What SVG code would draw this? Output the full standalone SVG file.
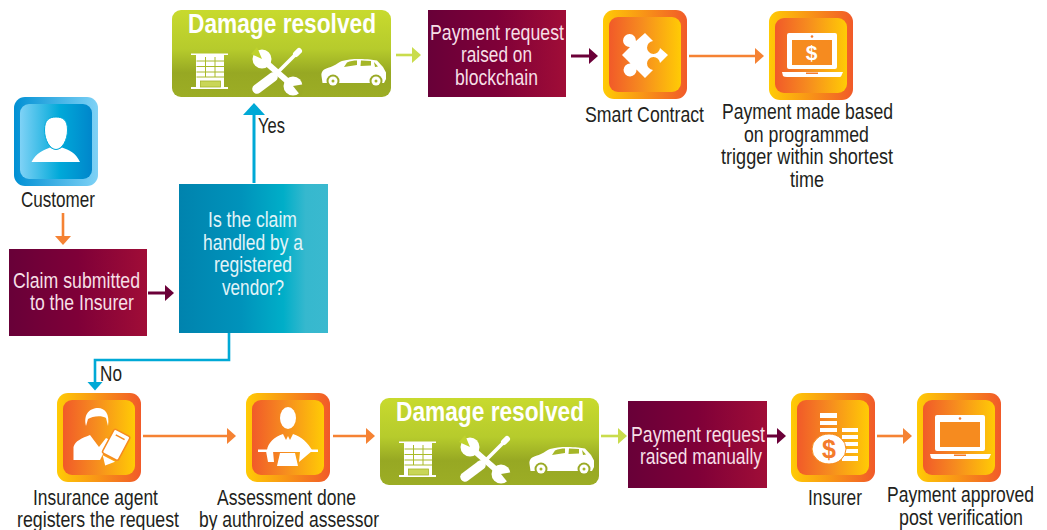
<svg xmlns="http://www.w3.org/2000/svg" xmlns:xlink="http://www.w3.org/1999/xlink" width="1047" height="530" viewBox="0 0 1047 530">
<style>
text{font-family:"Liberation Sans",Arial,sans-serif;font-size:22px;fill:#231f20}
.lt{fill:#f6dfe6}
.bt{fill:#e2f4f8}
.h{font-size:27px;font-weight:bold;fill:#fff}
.w{fill:#fff}
.c{fill:none;stroke-width:2.6}
.cb{stroke:#00a9d6}.co{stroke:#f58233}.cp{stroke:#6b0038;stroke-width:3}.cg{stroke:#c9dc4c}
</style>
<defs>
<linearGradient id="og1"><stop offset="0" stop-color="#ffcb05"/><stop offset="1" stop-color="#f15a29"/></linearGradient>
<linearGradient id="og2"><stop offset="0" stop-color="#f15a29"/><stop offset=".45" stop-color="#f68b1f"/><stop offset="1" stop-color="#ffcb05"/></linearGradient>
<linearGradient id="bg1"><stop offset="0" stop-color="#0090d4"/><stop offset="1" stop-color="#7fd2f6"/></linearGradient>
<linearGradient id="bg2"><stop offset="0" stop-color="#7fd2f6"/><stop offset=".55" stop-color="#00a9d9"/><stop offset="1" stop-color="#0086cb"/></linearGradient>
<linearGradient id="pg"><stop offset="0" stop-color="#680038"/><stop offset=".5" stop-color="#7f0038"/><stop offset="1" stop-color="#a00d37"/></linearGradient>
<linearGradient id="tg"><stop offset="0" stop-color="#0083ae"/><stop offset=".42" stop-color="#0093bb"/><stop offset=".7" stop-color="#00aec8"/><stop offset=".85" stop-color="#36b8ce"/><stop offset="1" stop-color="#3ab9cf"/></linearGradient>
<linearGradient id="gg" x2="0" y2="1"><stop offset="0" stop-color="#c8da2e"/><stop offset=".45" stop-color="#b6cb2c"/><stop offset=".72" stop-color="#97a823"/><stop offset="1" stop-color="#9cad25"/></linearGradient>
<marker id="mb" markerUnits="userSpaceOnUse" markerWidth="24" markerHeight="24" refX="1" refY="11" orient="auto"><path d="M0,0L12,11L0,22Z" fill="#00a9d6"/></marker>
<marker id="mb2" markerUnits="userSpaceOnUse" markerWidth="12" markerHeight="18" refX="1" refY="7.500" orient="auto"><path d="M0,0L8.500,7.500L0,15Z" fill="#00a9d6"/></marker>
<marker id="mo" markerUnits="userSpaceOnUse" markerWidth="12" markerHeight="18" refX="1" refY="8" orient="auto"><path d="M0,0L9,8L0,16Z" fill="#f58233"/></marker>
<marker id="mp" markerUnits="userSpaceOnUse" markerWidth="12" markerHeight="18" refX="1" refY="8" orient="auto"><path d="M0,0L9,8L0,16Z" fill="#6b0038"/></marker>
<marker id="mg" markerUnits="userSpaceOnUse" markerWidth="12" markerHeight="18" refX="1" refY="8" orient="auto"><path d="M0,0L9,8L0,16Z" fill="#c9dc4c"/></marker>
<g id="tile"><rect width="84" height="89" rx="11" fill="url(#og1)"/><rect x="6" y="7" width="72" height="75" rx="9" fill="url(#og2)"/></g>
<g id="laptop">
<rect x="18" y="22" width="50" height="36" rx="2" fill="#fff"/><rect x="23" y="29" width="40" height="25" fill="#f68b1f"/><circle cx="43" cy="25.500" r="1.300" fill="#f47b2b"/>
<path d="M13,61H74L72,65.500Q71,66 69,66H18Q15,66 14,65Z" fill="#fff"/><rect x="37" y="61.500" width="12" height="1.500" fill="#f47b2b"/>
</g>
<g id="dmg">
<rect width="219" height="87" rx="9" fill="url(#gg)"/>
<path class="w" d="M19,43.500H56V45H52V77H56V79H19V77H24V45H19Z"/>
<path d="M24.500,51H52M24.500,56.500H52M24.500,62H52M24.500,67H52M33.500,47V67M43,47V67" stroke="#a9ba28" stroke-width="1" fill="none"/>
<rect x="28.500" y="71" width="20" height="6" fill="#c9d657" stroke="#a5b628" stroke-width=".8"/>
<path d="M90,49L121,76" stroke="#fff" stroke-width="6"/>
<circle class="w" cx="90" cy="49" r="9.500"/><path d="M90,49L79,44L85,37Z" fill="#bfd22d"/>
<circle class="w" cx="121" cy="76" r="9.500"/><path d="M121,76L133,74L129,86Z" fill="#9aaa25"/>
<path d="M125,43L103,65" stroke="#fff" stroke-width="3.500"/><path d="M124,44L127,41" stroke="#fff" stroke-width="6" stroke-linecap="round"/>
<path d="M101,67L85,79" stroke="#fff" stroke-width="9.500" stroke-linecap="round"/>
<g transform="translate(0,-10)">
<path class="w" d="M149.500,76C149,72 151,69 157,67.500C162,66.500 165,63 170,61C177,58.500 190,58.500 198,59.500L205,60.500L211,67L214,72.500V79L212,83H150.500Z"/>
<path d="M172,67L175,62.500C178,61 182,60.500 185,60.500V65ZM189,60.500L199,61V65.500L188.500,66ZM202,62L206,66.500L203,67Z" fill="#a5b628"/>
<circle cx="161" cy="81" r="6.500" fill="#9aaa25"/><circle cx="161" cy="81" r="4.500" fill="#fff"/><circle cx="161" cy="81" r="1.500" fill="#a5b628"/>
<circle cx="204" cy="81" r="6.500" fill="#9aaa25"/><circle cx="204" cy="81" r="4.500" fill="#fff"/><circle cx="204" cy="81" r="1.500" fill="#a5b628"/>
</g>
<text class="h" transform="translate(16,23) scale(.9,1)" textLength="208.900" lengthAdjust="spacingAndGlyphs">Damage resolved</text>
</g>
</defs>

<g id="connectors">
<path class="c cb" style="stroke-width:3" d="M254,183V114" marker-end="url(#mb)"/>
<path class="c cb" d="M229,333V360H95V383" marker-end="url(#mb2)"/>
<path class="c co" d="M63,213V237" marker-end="url(#mo)"/>
<path class="c cp" d="M148,293H166" marker-end="url(#mp)"/>
<path class="c cg" d="M396,55H413" marker-end="url(#mg)"/>
<path class="c cp" d="M571,56H590" marker-end="url(#mp)"/>
<path class="c co" d="M689,56H756" marker-end="url(#mo)"/>
<path class="c co" d="M143,436H228" marker-end="url(#mo)"/>
<path class="c co" d="M333,436H367" marker-end="url(#mo)"/>
<path class="c cg" d="M601,436H619" marker-end="url(#mg)"/>
<path class="c cp" d="M767,436H778" marker-end="url(#mp)"/>
<path class="c co" d="M877,436H904" marker-end="url(#mo)"/>
</g>

<g id="customer">
<rect x="14" y="97" width="84" height="89" rx="11" fill="url(#bg1)"/><rect x="20" y="104" width="72" height="75" rx="9" fill="url(#bg2)"/>
<path class="w" d="M31.500,162C36,153 44,150 50,147.500C53,150 59,150 62,147.500C69,150 76,153 80,162Z"/>
<path class="w" stroke="#00a9d9" d="M44.500,130C44.500,120 49,117 56,117C63,117 67.500,120 67.500,130C67.500,140 62,149.500 56,149.500C50,149.500 44.500,140 44.500,130Z"/>
<text transform="translate(21,207) scale(.82,1)" textLength="90.200" lengthAdjust="spacingAndGlyphs">Customer</text>
</g>

<g id="claim">
<rect x="9" y="249" width="138" height="87" fill="url(#pg)"/>
<text class="lt" transform="translate(13,288) scale(.82,1)" textLength="154.900" lengthAdjust="spacingAndGlyphs">Claim submitted</text>
<text class="lt" transform="translate(30,310) scale(.82,1)" textLength="126.800" lengthAdjust="spacingAndGlyphs">to the Insurer</text>
</g>

<g id="decision">
<rect x="179" y="184" width="149" height="149" fill="url(#tg)"/>
<text class="bt" transform="translate(208,227) scale(.82,1)" textLength="108.500" lengthAdjust="spacingAndGlyphs">Is the claim</text>
<text class="bt" transform="translate(203,250) scale(.82,1)" textLength="122" lengthAdjust="spacingAndGlyphs">handled by a</text>
<text class="bt" transform="translate(214,272) scale(.82,1)" textLength="95.100" lengthAdjust="spacingAndGlyphs">registered</text>
<text class="bt" transform="translate(222,295) scale(.82,1)" textLength="75.600" lengthAdjust="spacingAndGlyphs">vendor?</text>
</g>
<g id="label-yes"><text transform="translate(258,133) scale(.82,1)" textLength="32.900" lengthAdjust="spacingAndGlyphs">Yes</text></g>
<g id="label-no"><text transform="translate(100,381) scale(.82,1)" textLength="26.800" lengthAdjust="spacingAndGlyphs">No</text></g>

<g id="damage-top"><use xlink:href="#dmg" href="#dmg" x="172" y="10"/></g>

<g id="request-top">
<rect x="428" y="10" width="138" height="87" fill="url(#pg)"/>
<text class="lt" transform="translate(430,40) scale(.82,1)" textLength="163.400" lengthAdjust="spacingAndGlyphs">Payment request</text>
<text class="lt" transform="translate(461,62) scale(.82,1)" textLength="86.600" lengthAdjust="spacingAndGlyphs">raised on</text>
<text class="lt" transform="translate(455,85) scale(.82,1)" textLength="101.200" lengthAdjust="spacingAndGlyphs">blockchain</text>
</g>

<g id="smart-contract">
<use xlink:href="#tile" href="#tile" x="603" y="10"/>
<path class="w" d="M645,33L653,41A6.500,6.500 0 1 0 660,48L668,55L660,63A6.500,6.500 0 1 0 653,70L645,78L636.500,69.500A6.500,6.500 0 1 1 630.500,63.500L622,55L630,47A6.500,6.500 0 1 1 636,41Z"/>
<text transform="translate(585,122) scale(.82,1)" textLength="145.100" lengthAdjust="spacingAndGlyphs">Smart Contract</text>
</g>

<g id="payment-made">
<use xlink:href="#tile" href="#tile" x="769" y="11"/>
<use xlink:href="#laptop" href="#laptop" x="769" y="11"/>
<text x="811.500" y="60" text-anchor="middle" style="font-size:21px;font-weight:bold;fill:#fff">$</text>
<text transform="translate(722,119) scale(.82,1)" textLength="208.500" lengthAdjust="spacingAndGlyphs">Payment made based</text>
<text transform="translate(744,142) scale(.82,1)" textLength="152.400" lengthAdjust="spacingAndGlyphs">on programmed</text>
<text transform="translate(721,164) scale(.82,1)" textLength="209.800" lengthAdjust="spacingAndGlyphs">trigger within shortest</text>
<text transform="translate(790,187) scale(.82,1)" textLength="41.500" lengthAdjust="spacingAndGlyphs">time</text>
</g>

<g id="agent">
<use xlink:href="#tile" href="#tile" x="57" y="393"/>
<path class="w" d="M86,426C83,414 90,408 98,408C105,408 110,414 108,426L106,418C102,415 92,416 88,419Z"/>
<path class="w" d="M73.500,460V447C75,441 82,438 90,435L99,447L106,438L110,440L100,460Z"/>
<g transform="rotate(28 115 447)"><rect x="106" y="431" width="18" height="27" rx="2" fill="#fff" stroke="#f68b1f" stroke-width="1.500"/><path d="M110,436H120" stroke="#f68b1f" stroke-width="1.500"/><path d="M108,460H122L115,468Z" fill="#fff"/></g>
<text transform="translate(33,505) scale(.82,1)" textLength="152.400" lengthAdjust="spacingAndGlyphs">Insurance agent</text>
<text transform="translate(17,527) scale(.82,1)" textLength="197.600" lengthAdjust="spacingAndGlyphs">registers the request</text>
</g>

<g id="assessor">
<use xlink:href="#tile" href="#tile" x="246" y="393"/>
<ellipse class="w" cx="288" cy="418" rx="8" ry="11"/>
<path class="w" d="M267,450C268,443 274,437 283,434L286,440L288,436L290,440L293,434C302,437 308,443 312,450Z"/>
<rect class="w" x="258" y="449.500" width="60" height="2.500"/>
<path class="w" d="M266,451H273L274,462H268ZM300,452L308,446L312,451L299,462Z"/>
<path class="w" d="M280,453H295L298,466H277Z"/>
<text transform="translate(217,505) scale(.82,1)" textLength="169.500" lengthAdjust="spacingAndGlyphs">Assessment done</text>
<text transform="translate(199,527) scale(.82,1)" textLength="219.500" lengthAdjust="spacingAndGlyphs">by authroized assessor</text>
</g>

<g id="damage-bottom"><use xlink:href="#dmg" href="#dmg" x="380" y="398"/></g>

<g id="request-bottom">
<rect x="628" y="401" width="139" height="87" fill="url(#pg)"/>
<text class="lt" transform="translate(631,442) scale(.82,1)" textLength="163.400" lengthAdjust="spacingAndGlyphs">Payment request</text>
<text class="lt" transform="translate(640,464) scale(.82,1)" textLength="148.800" lengthAdjust="spacingAndGlyphs">raised manually</text>
</g>

<g id="insurer">
<use xlink:href="#tile" href="#tile" x="791" y="393"/>
<path class="w" d="M820,413H837V418H820ZM820,421H837V425H820ZM820,428H837V432H820ZM842,428H858V432H842ZM842,435H858V439H842ZM842,442H858V446H842ZM842,449H858V453H842ZM842,456H858V461H842Z"/>
<ellipse class="w" cx="829" cy="449" rx="17" ry="15" stroke="#f68b1f"/>
<text x="829" y="458" text-anchor="middle" style="font-size:25px;font-weight:bold;fill:#f47b2b">$</text>
<text transform="translate(808,505) scale(.82,1)" textLength="65.900" lengthAdjust="spacingAndGlyphs">Insurer</text>
</g>

<g id="payment-approved">
<use xlink:href="#tile" href="#tile" x="917" y="393"/>
<use xlink:href="#laptop" href="#laptop" x="917" y="393"/>
<text transform="translate(887,502) scale(.82,1)" textLength="179.300" lengthAdjust="spacingAndGlyphs">Payment approved</text>
<text transform="translate(899,525) scale(.82,1)" textLength="151.200" lengthAdjust="spacingAndGlyphs">post verification</text>
</g>
</svg>
